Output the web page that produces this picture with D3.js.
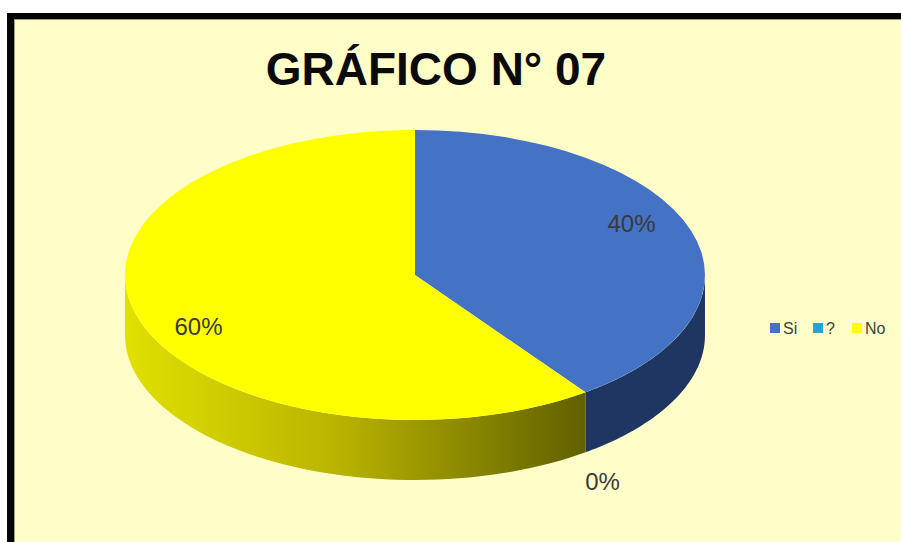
<!DOCTYPE html>
<html>
<head>
<meta charset="utf-8">
<script src="https://cdn.jsdelivr.net/npm/d3@7"></script>
<style>
  html, body { margin: 0; padding: 0; background: #fff; }
  svg { display: block; }
</style>
</head>
<body>
<div id="chart"></div>
<script>
// data
const categories = ["Si", "?", "No"];
const values = [40, 0, 60];
const labels = ["40%", "0%", "60%"];
const colors = ["#4472C4", "#22A3DA", "#FFFF00"];
const sideColors = ["#1F3562", "#11506A", "url(#yellowSide)"];
const title = "GRÁFICO N° 07";

const width = 901, height = 542;

// pie geometry (ellipse of the top face)
const cx = 415, cy = 275, rx = 290, ry = 145, depth = 60;

const svg = d3.select("#chart")
    .append("svg")
    .attr("width", width)
    .attr("height", height);

// gradient for the yellow wall
const defs = svg.append("defs");
const grad = defs.append("linearGradient")
    .attr("id", "yellowSide")
    .attr("gradientUnits", "userSpaceOnUse")
    .attr("x1", cx - rx).attr("y1", 0)
    .attr("x2", cx + rx * 0.59).attr("y2", 0);
grad.append("stop").attr("offset", 0).attr("stop-color", "#E0E000");
grad.append("stop").attr("offset", 0.45).attr("stop-color", "#BBB500");
grad.append("stop").attr("offset", 1).attr("stop-color", "#606000");

/* frame */
svg.append("rect").attr("x", 7).attr("y", 13)
    .attr("width", width).attr("height", height).attr("fill", "#050505");
svg.append("rect").attr("x", 14).attr("y", 19)
    .attr("width", width).attr("height", height).attr("fill", "#9a9a80");
svg.append("rect").attr("x", 15).attr("y", 20)
    .attr("width", width).attr("height", height).attr("fill", "#FFFDC8");

/* title */
svg.append("text")
    .attr("x", 436)
    .attr("y", 85)
    .attr("text-anchor", "middle")
    .attr("font-family", "Liberation Sans, Arial, sans-serif")
    .attr("font-weight", "bold")
    .attr("font-size", 46)
    .attr("fill", "#0a0a0a")
    .text(title);

const color = d3.scaleOrdinal().domain(categories).range(colors);
const sideColor = d3.scaleOrdinal().domain(categories).range(sideColors);

const pie = d3.pie().sort(null).value(d => d.value);
const arcs = pie(categories.map((c, i) => ({ name: c, value: values[i], label: labels[i] })));

// point on the ellipse, angle clockwise from 12 o'clock
const px = (a, k = 1) => cx + rx * k * Math.sin(a);
const py = (a, k = 1) => cy - ry * k * Math.cos(a);

const g = svg.append("g");

// outer walls (front half only)
const wallPath = (a0, a1) => {
    const s = Math.max(a0, Math.PI / 2), e = Math.min(a1, Math.PI * 1.5);
    if (e <= s) return null;
    const p = d3.path();
    const n = 60;
    for (let i = 0; i <= n; i++) {
        const a = s + (e - s) * i / n;
        if (i === 0) p.moveTo(px(a), py(a)); else p.lineTo(px(a), py(a));
    }
    for (let i = n; i >= 0; i--) {
        const a = s + (e - s) * i / n;
        p.lineTo(px(a), py(a) + depth);
    }
    p.closePath();
    return p.toString();
};

g.selectAll("path.wall")
    .data(arcs.filter(d => d.value > 0))
    .join("path")
    .attr("class", "wall")
    .attr("d", d => wallPath(d.startAngle, d.endAngle))
    .attr("fill", d => sideColor(d.data.name));

// top faces: d3.arc on a circle, squashed into the ellipse
const arc = d3.arc().innerRadius(0).outerRadius(rx);
g.append("g")
    .attr("transform", `translate(${cx},${cy}) scale(1,${ry / rx})`)
    .selectAll("path")
    .data(arcs.filter(d => d.value > 0))
    .join("path")
    .attr("d", arc)
    .attr("fill", d => color(d.data.name));

// data labels
svg.append("g")
    .selectAll("text")
    .data(arcs)
    .join("text")
    .attr("x", d => {
        const m = (d.startAngle + d.endAngle) / 2;
        return d.value > 0 ? px(m, 0.785) : px(m, 1.1);
    })
    .attr("y", d => {
        const m = (d.startAngle + d.endAngle) / 2;
        return d.value > 0 ? py(m, 1.14) : py(m, 1.25) + depth;
    })
    .attr("text-anchor", "middle")
    .attr("dominant-baseline", "central")
    .attr("font-family", "Liberation Sans, Arial, sans-serif")
    .attr("font-size", 24)
    .attr("fill", "#3a3a3a")
    .text(d => d.data.label);

/* legend */
const legendX = [770, 813, 852];
const legend = svg.append("g")
    .selectAll("g")
    .data(categories)
    .join("g")
    .attr("transform", (d, i) => `translate(${legendX[i]},328)`);

legend.append("rect")
    .attr("x", 0).attr("y", -5)
    .attr("width", 10).attr("height", 10)
    .attr("fill", d => color(d));

legend.append("text")
    .attr("x", 13)
    .attr("y", 0)
    .attr("dominant-baseline", "central")
    .attr("font-family", "Liberation Sans, Arial, sans-serif")
    .attr("font-size", 16)
    .attr("fill", "#404040")
    .text(d => d);
</script>
</body>
</html>
